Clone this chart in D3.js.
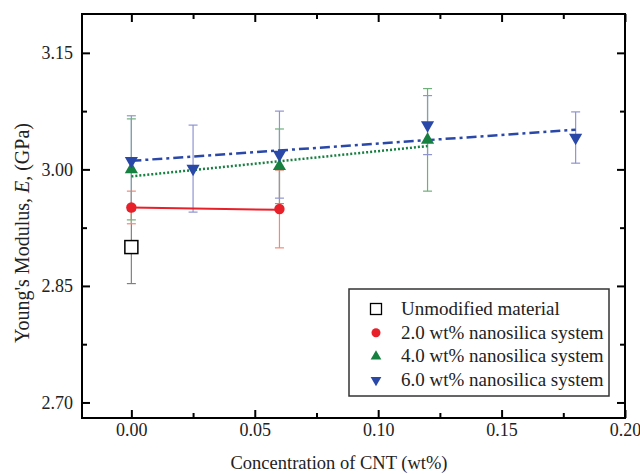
<!DOCTYPE html>
<html><head><meta charset="utf-8">
<script src="https://cdn.jsdelivr.net/npm/d3@7"></script>
<style>body{margin:0;background:#fff;} text{font-family:"Liberation Serif","Times New Roman",serif;}</style>
</head><body>
<svg id="c" width="640" height="474"></svg>
<script>
const seriesNames = ["Unmodified material","2.0 wt% nanosilica system","4.0 wt% nanosilica system","6.0 wt% nanosilica system"];
const unmodX = [0.00];
const unmodY = [2.900];
const unmodErr = [0.047];
const ns2X = [0.00, 0.06];
const ns2Y = [2.951, 2.949];
const ns2Err = [0.021, 0.050];
const ns4X = [0.00, 0.06, 0.12];
const ns4Y = [3.000, 3.004, 3.038];
const ns4Err = [0.065, 0.048, 0.066];
const ns6X = [0.00, 0.025, 0.06, 0.12, 0.18];
const ns6Y = [3.011, 3.001, 3.019, 3.057, 3.041];
const ns6Err = [0.058, 0.056, 0.056, 0.038, 0.033];
// linear fit lines (endpoints)
const fit2X = [0.00, 0.06], fit2Y = [2.951, 2.948];
const fit4X = [0.00, 0.12], fit4Y = [2.991, 3.030];
const fit6X = [0.00, 0.18], fit6Y = [3.011, 3.051];
const xTicks = [0.00, 0.05, 0.10, 0.15, 0.20];
const xTickLabels = ["0.00","0.05","0.10","0.15","0.20"];
const yTicks = [2.70, 2.85, 3.00, 3.15];
const yTickLabels = ["2.70","2.85","3.00","3.15"];

const svg = d3.select("#c");
const L=82, R=625, T=14, B=418;
const x = d3.scaleLinear().domain([-0.02,0.20]).range([L,R]);
const y = d3.scaleLinear().domain([2.68,3.20]).range([B,T]);

const cols = {u:"#000", r:"#e8202a", g:"#168040", b:"#2a48a8"};
const ecols = {u:"#808080", r:"#f08a78", g:"#6fb07a", b:"#8f94d0"};

const xMinor = [0.025, 0.075, 0.125, 0.175];
const yMinor = [2.775,2.925,3.075];
function axisG(axis, tx, ty){ const g=svg.append("g").attr("transform",`translate(${tx},${ty})`).call(axis); g.select(".domain").remove(); g.selectAll("line").attr("stroke","#000").attr("stroke-width",2); return g;}
const fmt = (arr, labs)=> (d)=>{const i=arr.findIndex(v=>Math.abs(v-d)<1e-9); return i>=0?labs[i]:"";};
const gb = axisG(d3.axisBottom(x).tickValues(xTicks).tickSize(-8).tickPadding(5).tickFormat(fmt(xTicks,xTickLabels)), 0, B);
gb.selectAll("text").attr("font-size",18).attr("fill","#222");
axisG(d3.axisBottom(x).tickValues(xMinor).tickSize(-5).tickFormat(""),0,B);
axisG(d3.axisTop(x).tickValues(xTicks).tickSize(-8).tickFormat(""),0,T);
axisG(d3.axisTop(x).tickValues(xMinor).tickSize(-5).tickFormat(""),0,T);
const gl = axisG(d3.axisLeft(y).tickValues(yTicks).tickSize(-8).tickPadding(9).tickFormat(fmt(yTicks,yTickLabels)), L, 0);
gl.selectAll("text").attr("font-size",18).attr("fill","#222");
axisG(d3.axisLeft(y).tickValues(yMinor).tickSize(-5).tickFormat(""),L,0);
axisG(d3.axisRight(y).tickValues(yTicks).tickSize(-8).tickFormat(""),R,0);
axisG(d3.axisRight(y).tickValues(yMinor).tickSize(-5).tickFormat(""),R,0);
svg.append("rect").attr("x",L).attr("y",T).attr("width",R-L).attr("height",B-T).attr("fill","none").attr("stroke","#000").attr("stroke-width",2);

function errbars(xs,ys,es,c){
  const g=svg.append("g").attr("stroke",c).attr("stroke-width",1.2);
  xs.forEach((xv,i)=>{
    const px=x(xv), y1=y(ys[i]+es[i]), y0=y(ys[i]-es[i]);
    g.append("line").attr("x1",px).attr("x2",px).attr("y1",y1).attr("y2",y0);
    g.append("line").attr("x1",px-4.5).attr("x2",px+4.5).attr("y1",y1).attr("y2",y1);
    g.append("line").attr("x1",px-4.5).attr("x2",px+4.5).attr("y1",y0).attr("y2",y0);
  });
}
errbars(unmodX,unmodY,unmodErr,ecols.u);
errbars(ns2X,ns2Y,ns2Err,ecols.r);
errbars(ns4X,ns4Y,ns4Err,ecols.g);
errbars(ns6X,ns6Y,ns6Err,ecols.b);

const line = d3.line().x(d=>x(d[0])).y(d=>y(d[1]));
svg.append("path").attr("d",line(d3.zip(fit2X,fit2Y))).attr("stroke",cols.r).attr("stroke-width",2).attr("fill","none");
svg.append("path").attr("d",line(d3.zip(fit4X,fit4Y))).attr("stroke",cols.g).attr("stroke-width",2.5).attr("stroke-dasharray","2,2").attr("fill","none");
svg.append("path").attr("d",line(d3.zip(fit6X,fit6Y))).attr("stroke",cols.b).attr("stroke-width",2.5).attr("stroke-dasharray","10,4,3,4").attr("fill","none");

const triUp = d3.symbol().type(d3.symbolTriangle).size(75)();
function marks(xs,ys,kind,c){
  xs.forEach((xv,i)=>{
    const px=x(xv), py=y(ys[i]);
    if(kind==="sq") svg.append("rect").attr("x",px-6.5).attr("y",py-6.5).attr("width",13).attr("height",13).attr("fill","#fff").attr("stroke","#000").attr("stroke-width",1.5);
    else if(kind==="c") svg.append("circle").attr("cx",px).attr("cy",py).attr("r",5.2).attr("fill",c);
    else if(kind==="tu") svg.append("path").attr("d",triUp).attr("transform",`translate(${px},${py})`).attr("fill",c);
    else svg.append("path").attr("d",triUp).attr("transform",`translate(${px},${py}) rotate(180)`).attr("fill",c);
  });
}
marks(unmodX,unmodY,"sq",cols.u);
marks(ns2X,ns2Y,"c",cols.r);
marks(ns4X,ns4Y,"tu",cols.g);
marks(ns6X,ns6Y,"td",cols.b);

const lg = svg.append("g");
lg.append("rect").attr("x",349).attr("y",289).attr("width",260).attr("height",107).attr("fill","#fff").attr("stroke","#333").attr("stroke-width",1.5);
const kinds=["sq","c","tu","td"], lc=[cols.u,cols.r,cols.g,cols.b];
seriesNames.forEach((n,i)=>{
  const cy=309+i*23.7, cx=376;
  const k=kinds[i];
  if(k==="sq") lg.append("rect").attr("x",cx-5.5).attr("y",cy-5.5).attr("width",11).attr("height",11).attr("fill","#fff").attr("stroke","#000").attr("stroke-width",1.3);
  else if(k==="c") lg.append("circle").attr("cx",cx).attr("cy",cy).attr("r",4.5).attr("fill",lc[i]);
  else lg.append("path").attr("d",d3.symbol().type(d3.symbolTriangle).size(50)()).attr("transform",`translate(${cx},${cy})${k==="td"?" rotate(180)":""}`).attr("fill",lc[i]);
  lg.append("text").attr("x",401).attr("y",cy+6).attr("font-size",19).attr("fill","#222").text(n);
});

svg.append("text").attr("x",339).attr("y",469).attr("text-anchor","middle").attr("font-size",18.5).attr("fill","#222").text("Concentration of CNT (wt%)");
const yt = svg.append("text").attr("transform","translate(29,233) rotate(-90)").attr("text-anchor","middle").attr("font-size",20).attr("fill","#222");
yt.append("tspan").text("Young's Modulus, ");
yt.append("tspan").attr("font-style","italic").text("E");
yt.append("tspan").text(", (GPa)");
</script>
</body></html>
